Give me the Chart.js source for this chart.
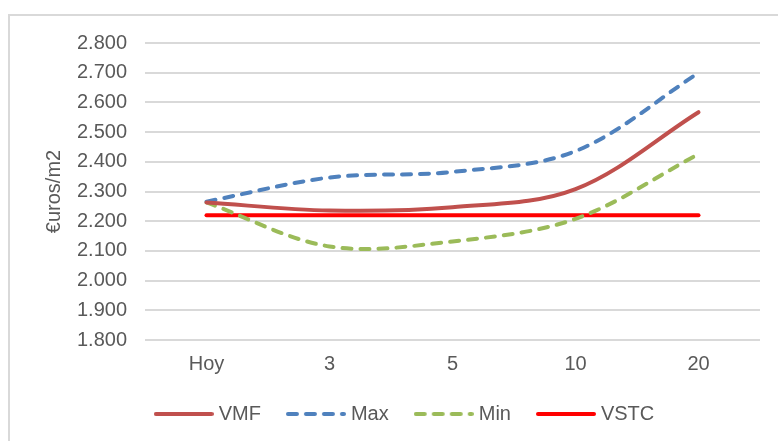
<!DOCTYPE html>
<html lang="es">
<head>
<meta charset="utf-8">
<title>€uros/m2</title>
<script src="https://cdn.jsdelivr.net/npm/chart.js@4/dist/chart.umd.min.js"></script>
<style>
  html, body { margin: 0; padding: 0; background: #ffffff; overflow: hidden; }
  #frame {
    position: absolute; left: 8px; top: 14px; width: 900px; height: 600px;
    border: 2px solid #d9d9d9; box-sizing: border-box;
  }
  #chart { position: absolute; left: 0; top: 0; }
</style>
</head>
<body>
<div id="frame"></div>
<canvas id="chart" width="778" height="441"></canvas>
<script>
// Horizons (años) y series de valor en €/m2
const categories = ['Hoy', '3', '5', '10', '20'];
const vmf  = [2263, 2236, 2247, 2308, 2567];
const maxV = [2266, 2347, 2366, 2436, 2699];
const minV = [2263, 2115, 2132, 2208, 2426];
const vstc = [2220, 2220, 2220, 2220, 2220];

const yMin = 1800;
const yMax = 2800;
const yStep = 100;

const textColor = '#595959';
const fontFamily = '"Liberation Sans", Arial, sans-serif';
const seriesDash = [9, 9];

// 2800 -> "2.800"
function fmtThousands(v) {
  const s = String(Math.round(v));
  return s.replace(/\B(?=(\d{3})+(?!\d))/g, '.');
}

// Small line sample used as the legend symbol (keeps dash pattern and round caps)
function legendIcon(color, dash) {
  const c = document.createElement('canvas');
  c.width = 60;
  c.height = 8;
  const g = c.getContext('2d');
  g.strokeStyle = color;
  g.lineWidth = 4;
  g.lineCap = 'round';
  g.setLineDash(dash || []);
  g.beginPath();
  g.moveTo(2, 4);
  g.lineTo(58, 4);
  g.stroke();
  return c;
}

const lineBase = {
  pointRadius: 0,
  pointHoverRadius: 0,
  borderWidth: 4,
  tension: 0.34,
  fill: false,
  borderCapStyle: 'round',
  borderJoinStyle: 'round'
};

function series(label, data, color, dash, extra) {
  return Object.assign({}, lineBase, {
    label: label,
    data: data,
    borderColor: color,
    backgroundColor: color,
    borderDash: dash || [],
    pointStyle: legendIcon(color, dash)
  }, extra || {});
}

new Chart(document.getElementById('chart'), {
  type: 'line',
  data: {
    labels: categories,
    datasets: [
      series('VMF', vmf, '#C0504D'),
      series('Max', maxV, '#4F81BD', seriesDash),
      series('Min', minV, '#9BBB59', seriesDash),
      series('VSTC', vstc, '#FF0000', null, { tension: 0 })
    ]
  },
  options: {
    responsive: false,
    animation: false,
    devicePixelRatio: 1,
    layout: { padding: { left: 53, top: 43, right: 18, bottom: 7 } },
    plugins: {
      tooltip: { enabled: false },
      legend: {
        position: 'bottom',
        labels: {
          usePointStyle: true,
          pointStyleWidth: 50,
          boxHeight: 20,
          padding: 30,
          color: textColor,
          font: { family: fontFamily, size: 20 }
        }
      }
    },
    scales: {
      x: {
        offset: true,
        grid: { display: false, drawTicks: false },
        border: { display: false },
        afterFit: (scale) => { scale.height = scale.height - 14; },
        ticks: {
          color: textColor,
          padding: 12,
          maxRotation: 0,
          font: { family: fontFamily, size: 20 }
        }
      },
      y: {
        min: yMin,
        max: yMax,
        afterFit: (scale) => { scale.width = 92; },
        grid: { color: '#d9d9d9', lineWidth: 2, drawTicks: false },
        border: { display: false },
        ticks: {
          stepSize: yStep,
          padding: 18,
          color: textColor,
          font: { family: fontFamily, size: 20 },
          callback: (v) => fmtThousands(v)
        },
        title: {
          display: true,
          text: '€uros/m2',
          color: textColor,
          padding: { top: -11, bottom: 0 },
          font: { family: fontFamily, size: 20 }
        }
      }
    }
  }
});
</script>
</body>
</html>
